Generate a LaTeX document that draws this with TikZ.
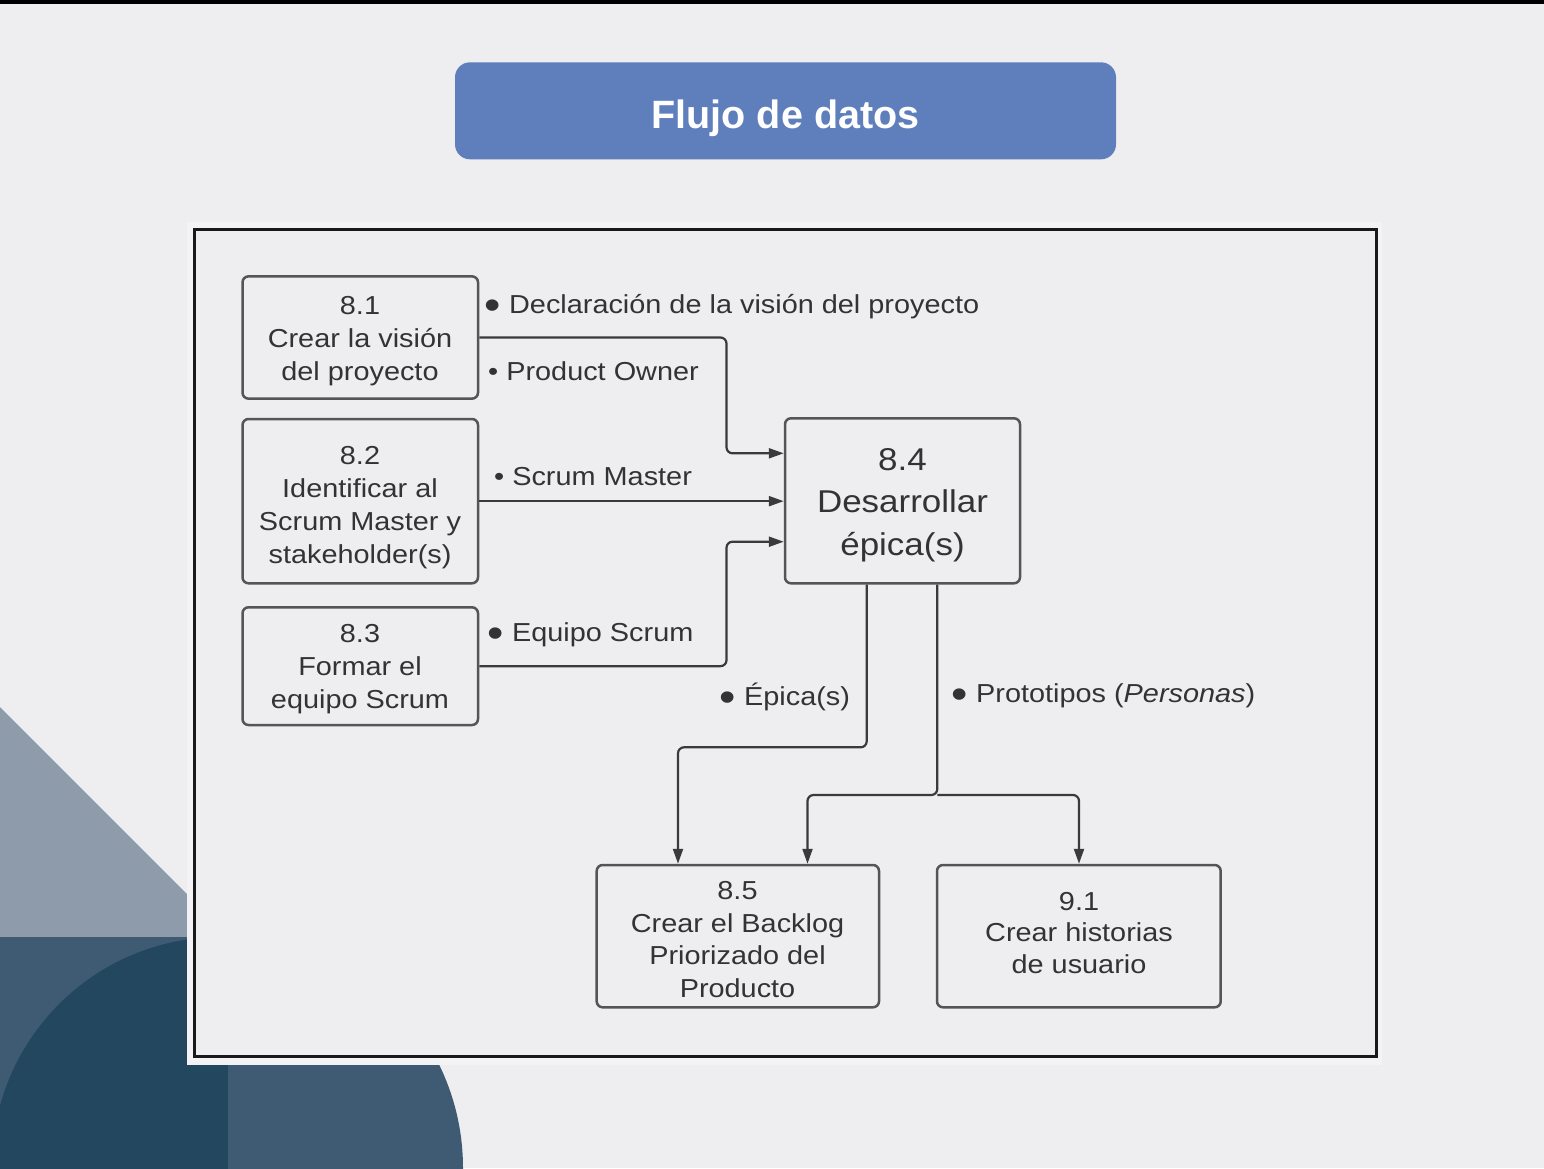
\documentclass[tikz,border=0pt]{standalone}
\usepackage{fontspec}
\setmainfont{Liberation Sans}
\newfontfamily\dfont[FakeStretch=1.11]{Liberation Sans}
\usetikzlibrary{arrows.meta}
\definecolor{bgc}{HTML}{EEEEF0}
\definecolor{marginc}{HTML}{F3F3F5}
\definecolor{titlec}{HTML}{5F7FBC}
\definecolor{slatel}{HTML}{8E9BAB}
\definecolor{slatem}{HTML}{3E5B73}
\definecolor{slated}{HTML}{22475F}
\definecolor{boxc}{HTML}{555555}
\definecolor{txtc}{HTML}{333333}
\definecolor{linec}{HTML}{3A3A3A}
\newcommand\bigbul{\raisebox{-6pt}{\fontsize{42}{42}\selectfont •}}
\begin{document}
\begin{tikzpicture}[x=1pt,y=-1pt,
  pbox/.style={draw=boxc, line width=2.5pt, rounded corners=6pt, inner sep=0pt},
  ptext/.style={align=center, text=txtc, inner sep=0pt, font=\dfont\fontsize{26}{33}\selectfont},
  lbl/.style={anchor=base west, text=txtc, inner sep=0pt, font=\dfont\fontsize{26}{33}\selectfont},
  conn/.style={draw=linec, line width=2.2pt, rounded corners=6pt},
  arr/.style={conn, -{Triangle[length=15pt,width=10pt]}}]
\useasboundingbox (0,0) rectangle (1544,1168);
% background
\fill[bgc] (0,0) rectangle (1544,1168);
\fill[black] (0,0) rectangle (1544,4);
% decoration bottom left
\fill[slatel] (0,707) -- (200,907) -- (200,937) -- (0,937) -- cycle;
\fill[slatem] (0,937) rectangle (200,1168);
\begin{scope}
  \clip (0,900) rectangle (228,1168);
  \fill[slated] (221,1166) circle (229pt);
\end{scope}
\begin{scope}
  \clip (228,1000) rectangle (520,1168);
  \fill[slatem] (228,1168) circle (235pt);
\end{scope}
% diagram frame
\fill[marginc] (187,222) rectangle (1382,1065);
\draw[line width=3pt, draw=black!90, fill=bgc] (194,229) rectangle (1376,1056);
% title
\node[fill=titlec, rounded corners=15pt, minimum width=661pt, minimum height=97pt, inner sep=0pt] (title) at (785.5,110.8) {};
\node[anchor=base, text=white, inner sep=0pt, font=\bfseries\fontsize{39.5}{44}\selectfont] (titletext) at (785.5,128.3) {Flujo de datos};
% boxes
\node[pbox, minimum width=235.5pt, minimum height=122.3pt] (b81) at (360.25,337.5) {};
\node[pbox, minimum width=235.5pt, minimum height=164.3pt] (b82) at (360.25,501.15) {};
\node[pbox, minimum width=235.5pt, minimum height=117.7pt] (b83) at (360.25,666.15) {};
\node[pbox, minimum width=235pt, minimum height=165pt] (b84) at (902.5,500.8) {};
\node[pbox, minimum width=282.3pt, minimum height=142.3pt] (b85) at (737.85,936.15) {};
\node[pbox, minimum width=283.7pt, minimum height=142.3pt] (b91) at (1078.85,936.15) {};
% box texts
\node[ptext] (t81) at (360,341.5) {8.1\\Crear la visión\\del proyecto};
\node[ptext] (t82) at (360,508) {8.2\\Identificar al\\Scrum Master y\\stakeholder(s)};
\node[ptext] (t83) at (360,669.5) {8.3\\Formar el\\equipo Scrum};
\node[ptext, font=\dfont\fontsize{31.5}{42.3}\selectfont] (t84) at (902.5,505) {8.4\\Desarrollar\\épica(s)};
\node[ptext, font=\dfont\fontsize{26}{32.5}\selectfont] (t85) at (737.5,939.5) {8.5\\Crear el Backlog\\Priorizado del\\Producto};
\node[ptext, font=\dfont\fontsize{26}{31.5}\selectfont] (t91) at (1079,932.8) {9.1\\Crear historias\\de usuario};
% labels
\node[lbl] (l1) at (484.6,313.5) {\bigbul\ Declaración de la visión del proyecto};
\node[lbl] (l2) at (488,380) {• Product Owner};
\node[lbl] (l3) at (494,485) {• Scrum Master};
\node[lbl] (l4) at (487.6,641) {\bigbul\ Equipo Scrum};
\node[lbl] (l5) at (719.6,705) {\bigbul\ Épica(s)};
\node[lbl] (l6) at (951.6,702.3) {\bigbul\ Prototipos ({\itshape Personas})};
% connectors
\coordinate (k1) at (726.5,453.3);
\coordinate (k3) at (726.5,541.7);
\coordinate (k4) at (866.7,747.3);
\coordinate (k5) at (678,747.3);
\coordinate (k6) at (937.3,795);
\coordinate (k7) at (807.5,795);
\coordinate (k8) at (1079,795);
\draw[arr] (b81.east) -| (k1) -- (k1 -| b84.west);
\draw[arr] (b82.east) -- (b82.east -| b84.west);
\draw[arr] (b83.east) -| (k3) -- (k3 -| b84.west);
\draw[arr] (k4 |- b84.south) -- (k4) -- (k5) -- (k5 |- b85.north);
\draw[arr] (k6 |- b84.south) -- (k6) -- (k7) -- (k7 |- b85.north);
\draw[arr] (k6) -- (k8) -- (k8 |- b91.north);
\end{tikzpicture}
\end{document}
